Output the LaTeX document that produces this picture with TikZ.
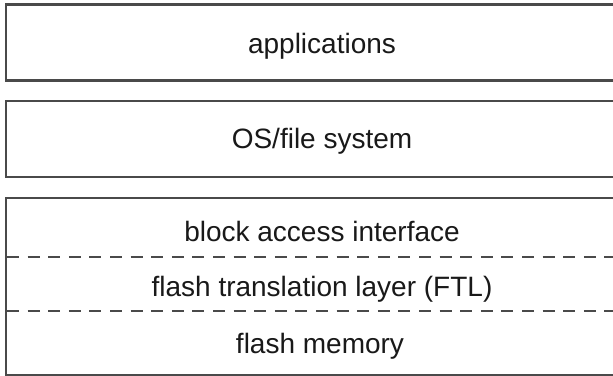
\documentclass[tikz,border=0pt]{standalone}
\usepackage{fontspec}
\setmainfont{Liberation Sans}
\begin{document}
\begin{tikzpicture}[x=1pt,y=-1pt,
  frame/.style={draw=linegray,line width=2.8pt},
  divider/.style={draw=linegray,line width=2.8pt,dash pattern=on 12pt off 8.6pt},
  label/.style={anchor=base,inner sep=0pt,font=\fontsize{28}{32}\selectfont,text=black!90}]
\definecolor{linegray}{HTML}{4A4A4A}
\useasboundingbox (0,0) rectangle (613,375);
\clip (0,0) rectangle (613,375);
\fill[white] (0,0) rectangle (613,375);
% boxes
\draw[frame] (6,4.5) rectangle (640,80.5);
\draw[frame] (6,101) rectangle (640,177);
\draw[frame] (6,198) rectangle (640,375);
% dividers
\coordinate (d1l) at (7,257);
\coordinate (d1r) at (640,257);
\coordinate (d2l) at (7,311);
\coordinate (d2r) at (640,311);
\draw[divider] (d1l) -- (d1r);
\draw[divider] (d2l) -- (d2r);
% labels
\node[label] (apps) at (322,53) {applications};
\node[label] (os) at (322,148) {OS/file system};
\node[label] (bai) at (322,241) {block access interface};
\node[label] (ftl) at (322,296.5) {flash translation layer (FTL)};
\node[label] (mem) at (320,353) {flash memory};
\end{tikzpicture}
\end{document}
